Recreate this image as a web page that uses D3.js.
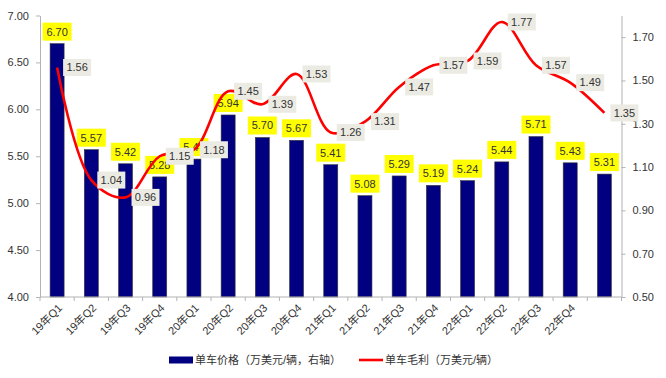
<!DOCTYPE html>
<html>
<head>
<meta charset="utf-8">
<script src="https://cdn.jsdelivr.net/npm/d3@7"></script>
<style>
  body { margin: 0; background: #fff; }
  text { font-family: "Liberation Sans", Arial, "Noto Sans CJK SC", sans-serif; }
</style>
</head>
<body>
<script>
var categories = ["19年Q1","19年Q2","19年Q3","19年Q4","20年Q1","20年Q2","20年Q3","20年Q4",
                  "21年Q1","21年Q2","21年Q3","21年Q4","22年Q1","22年Q2","22年Q3","22年Q4",""];
var price = [6.70,5.57,5.42,5.28,5.47,5.94,5.70,5.67,5.41,5.08,5.29,5.19,5.24,5.44,5.71,5.43,5.31];
var margin = [1.56,1.04,0.96,1.15,1.18,1.45,1.39,1.53,1.26,1.31,1.47,1.57,1.59,1.77,1.57,1.49,1.35];
var leftTicks = [4.00,4.50,5.00,5.50,6.00,6.50,7.00];
var rightTicks = [0.50,0.70,0.90,1.10,1.30,1.50,1.70];
var legendNames = ["单车价格（万美元/辆，右轴）","单车毛利（万美元/辆）"];

var width = 666, height = 378;
var plotLeft = 40, plotRight = 621.5, plotTop = 15.5, plotBottom = 297;
var axisColor = "#b3b3b3";
var textColor = "#333";

var svg = d3.select("body").append("svg")
    .attr("width", width)
    .attr("height", height);

var x = d3.scaleBand()
    .domain(d3.range(categories.length))
    .range([plotLeft, plotRight])
    .paddingInner(0.59)
    .paddingOuter(0.295);

var y = d3.scaleLinear().domain([4, 7]).range([plotBottom, plotTop]);
var y2 = d3.scaleLinear().domain([0.5, 1.8]).range([plotBottom, plotTop]);

// bars
svg.append("g").selectAll("rect")
    .data(price)
    .enter().append("rect")
    .attr("x", (d, i) => x(i))
    .attr("y", d => y(d))
    .attr("width", x.bandwidth())
    .attr("height", d => plotBottom - y(d))
    .attr("fill", "#000080")
    .attr("stroke", "#3a3a3a")
    .attr("stroke-width", 0.6);

// left axis
var leftAxis = d3.axisLeft(y).tickValues(leftTicks).tickFormat(d3.format(".2f")).tickSize(4).tickSizeOuter(0);
var gl = svg.append("g").attr("transform", "translate(" + plotLeft + ",0)").call(leftAxis);
gl.select(".domain").attr("stroke", axisColor);
gl.selectAll(".tick line").attr("stroke", axisColor);
gl.selectAll("text").attr("font-size", "11px").attr("fill", textColor).attr("x", -11);

// right axis
var rightAxis = d3.axisRight(y2).tickValues(rightTicks).tickFormat(d3.format(".2f")).tickSize(4).tickSizeOuter(0);
var gr = svg.append("g").attr("transform", "translate(" + plotRight + ",0)").call(rightAxis);
gr.select(".domain").attr("stroke", axisColor);
gr.selectAll(".tick line").attr("stroke", axisColor);
gr.selectAll("text").attr("font-size", "11px").attr("fill", textColor).attr("x", 11);

// bottom axis
svg.append("line")
    .attr("x1", plotLeft).attr("x2", plotRight)
    .attr("y1", plotBottom).attr("y2", plotBottom)
    .attr("stroke", axisColor);
svg.append("g").selectAll("line")
    .data(d3.range(categories.length + 1))
    .enter().append("line")
    .attr("x1", i => plotLeft + i * x.step())
    .attr("x2", i => plotLeft + i * x.step())
    .attr("y1", plotBottom).attr("y2", plotBottom + 4)
    .attr("stroke", axisColor);
svg.append("g").selectAll("text")
    .data(categories)
    .enter().append("text")
    .attr("transform", (d, i) => "translate(" + (x(i) + x.bandwidth() / 2 + 3) + "," + (plotBottom + 9) + ") rotate(-45)")
    .attr("text-anchor", "end")
    .attr("dy", "0.35em")
    .attr("font-size", "11px")
    .attr("fill", textColor)
    .text(d => d);

// bar labels
var barLabels = svg.append("g").selectAll("g")
    .data(price)
    .enter().append("g")
    .attr("transform", (d, i) => "translate(" + (x(i) + x.bandwidth() / 2) + "," + (y(d) - 12) + ")");
barLabels.append("rect")
    .attr("x", -14.5).attr("y", -9)
    .attr("width", 29).attr("height", 18)
    .attr("fill", "#ffff00");
barLabels.append("text")
    .attr("text-anchor", "middle")
    .attr("dy", "0.35em")
    .attr("font-size", "11px")
    .attr("fill", textColor)
    .text(d => d.toFixed(2));

// line
var line = d3.line()
    .x((d, i) => x(i) + x.bandwidth() / 2)
    .y(d => y2(d))
    .curve(d3.curveCatmullRom.alpha(0.5));
svg.append("path")
    .datum(margin)
    .attr("d", line)
    .attr("fill", "none")
    .attr("stroke", "#ff0000")
    .attr("stroke-width", 2.6);

// line labels
var lineLabels = svg.append("g").selectAll("g")
    .data(margin)
    .enter().append("g")
    .attr("transform", (d, i) => "translate(" + (x(i) + x.bandwidth() / 2 + 20) + "," + y2(d) + ")");
lineLabels.append("rect")
    .attr("x", -14).attr("y", -8.5)
    .attr("width", 28).attr("height", 17)
    .attr("fill", "#ebebe3");
lineLabels.append("text")
    .attr("text-anchor", "middle")
    .attr("dy", "0.35em")
    .attr("font-size", "11px")
    .attr("fill", textColor)
    .text(d => d.toFixed(2));

// legend
var lg = svg.append("g").attr("transform", "translate(169,360)");
lg.append("rect").attr("x", 0).attr("y", -3.5).attr("width", 24).attr("height", 7).attr("fill", "#000080");
lg.append("text").attr("x", 26).attr("dy", "0.35em").attr("font-size", "11px").attr("fill", textColor).text(legendNames[0]);
lg.append("line").attr("x1", 190).attr("x2", 214).attr("y1", 0).attr("y2", 0).attr("stroke", "#ff0000").attr("stroke-width", 2.6);
lg.append("text").attr("x", 216).attr("dy", "0.35em").attr("font-size", "11px").attr("fill", textColor).text(legendNames[1]);
</script>
</body>
</html>
